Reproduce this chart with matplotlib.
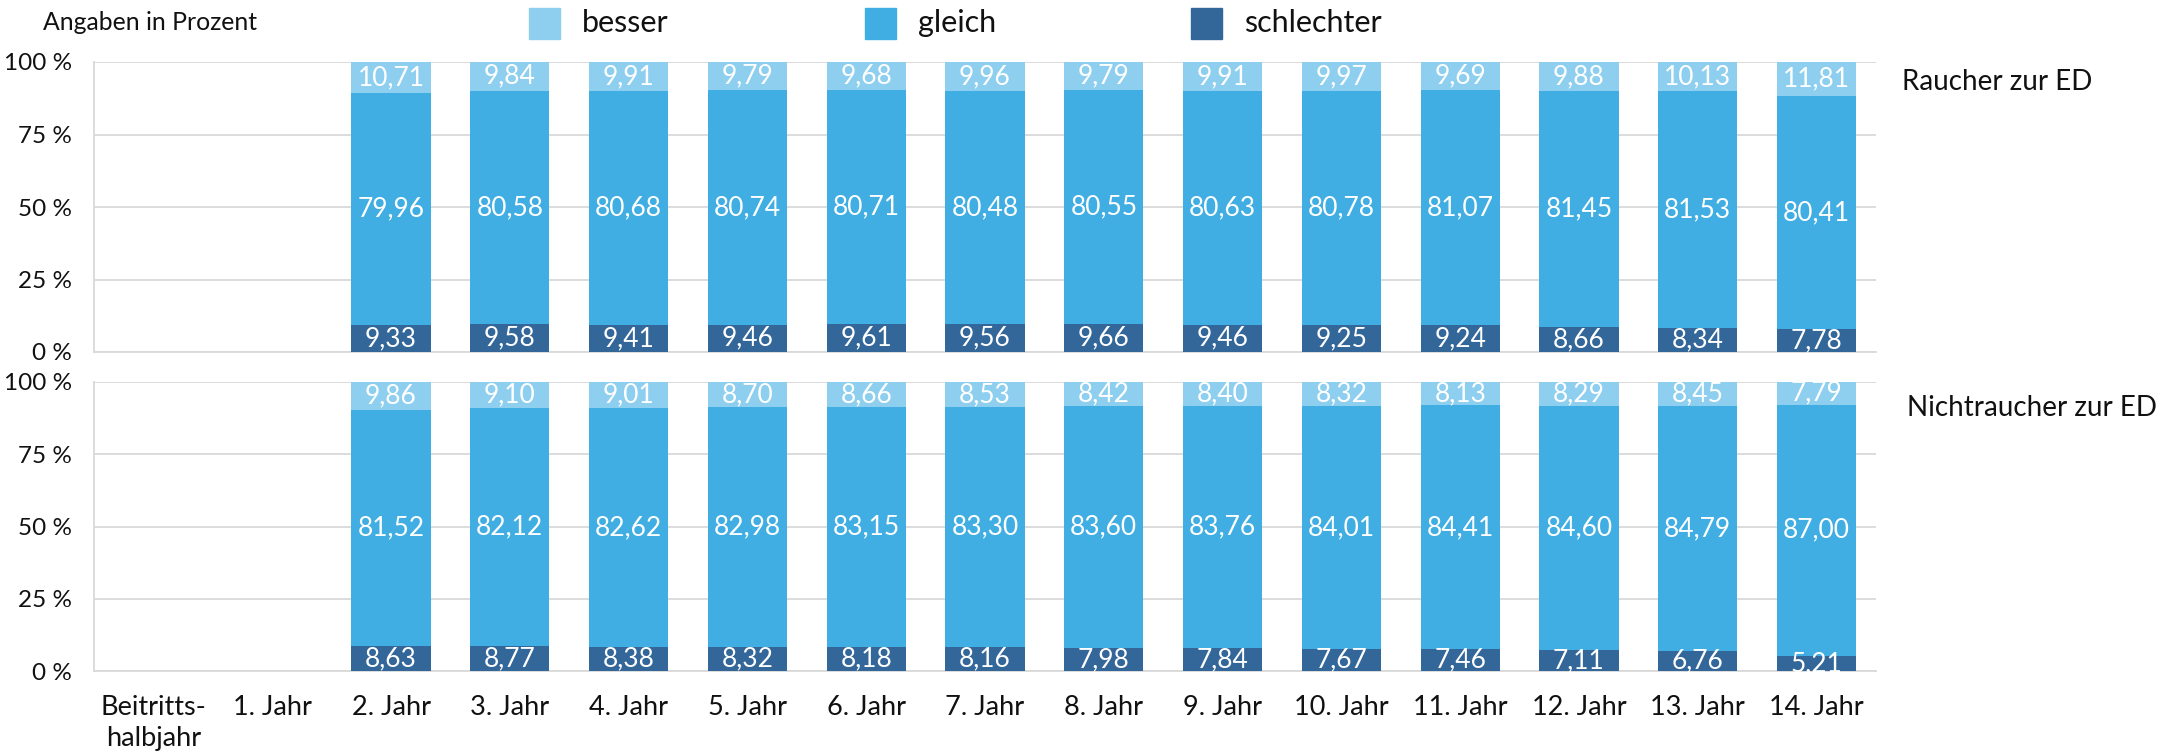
import matplotlib
matplotlib.use("Agg")
import matplotlib.pyplot as plt
import numpy as np
from matplotlib.patches import Rectangle

plt.rcParams['font.family'] = ['Lato', 'DejaVu Sans']

categories = ["Beitritts-\nhalbjahr", "1. Jahr", "2. Jahr", "3. Jahr", "4. Jahr", "5. Jahr",
              "6. Jahr", "7. Jahr", "8. Jahr", "9. Jahr", "10. Jahr", "11. Jahr",
              "12. Jahr", "13. Jahr", "14. Jahr"]

# Raucher zur ED (None = no data)
r_schlechter = [None, None, 9.33, 9.58, 9.41, 9.46, 9.61, 9.56, 9.66, 9.46, 9.25, 9.24, 8.66, 8.34, 7.78]
r_gleich     = [None, None, 79.96, 80.58, 80.68, 80.74, 80.71, 80.48, 80.55, 80.63, 80.78, 81.07, 81.45, 81.53, 80.41]
r_besser     = [None, None, 10.71, 9.84, 9.91, 9.79, 9.68, 9.96, 9.79, 9.91, 9.97, 9.69, 9.88, 10.13, 11.81]

# Nichtraucher zur ED
n_schlechter = [None, None, 8.63, 8.77, 8.38, 8.32, 8.18, 8.16, 7.98, 7.84, 7.67, 7.46, 7.11, 6.76, 5.21]
n_gleich     = [None, None, 81.52, 82.12, 82.62, 82.98, 83.15, 83.30, 83.60, 83.76, 84.01, 84.41, 84.60, 84.79, 87.00]
n_besser     = [None, None, 9.86, 9.10, 9.01, 8.70, 8.66, 8.53, 8.42, 8.40, 8.32, 8.13, 8.29, 8.45, 7.79]

series_names = ["besser", "gleich", "schlechter"]
yticks = [0, 25, 50, 75, 100]
ytick_labels = ["0 %", "25 %", "50 %", "75 %", "100 %"]
panel_titles = ["Raucher zur ED", "Nichtraucher zur ED"]

C_BESSER = "#8ECFF0"
C_GLEICH = "#41AEE3"
C_SCHLECHT = "#336699"
GRID = "#D9D9D9"

W, H = 2181, 752
fig = plt.figure(figsize=(W / 100, H / 100), dpi=100)

def fx(px):
    return px / W

def fy(py):
    return 1 - py / H

left, right = 94, 1876
ax1 = fig.add_axes([fx(left), fy(352), fx(right - left), fy(62) - fy(352)])
ax2 = fig.add_axes([fx(left), fy(671), fx(right - left), fy(382) - fy(671)])

def fmt(v):
    return f"{v:.2f}".replace(".", ",")

def draw(ax, s, g, b, show_x):
    x = np.arange(len(categories))
    idx = [i for i in range(len(categories)) if s[i] is not None]
    xs = x[idx]
    sv = np.array([s[i] for i in idx])
    gv = np.array([g[i] for i in idx])
    bv = np.array([b[i] for i in idx])
    width = 0.665
    ax.bar(xs, sv, width, color=C_SCHLECHT, zorder=3)
    ax.bar(xs, gv, width, bottom=sv, color=C_GLEICH, zorder=3)
    ax.bar(xs, bv, width, bottom=sv + gv, color=C_BESSER, zorder=3)
    for xi, a, m, c in zip(xs, sv, gv, bv):
        ax.text(xi, a / 2, fmt(a), ha="center", va="center", color="white", fontsize=19, zorder=4)
        ax.text(xi, a + m / 2, fmt(m), ha="center", va="center", color="white", fontsize=19, zorder=4)
        ax.text(xi, a + m + c / 2, fmt(c), ha="center", va="center", color="white", fontsize=19, zorder=4)
    ax.set_xlim(-0.5, len(categories) - 0.5)
    ax.set_ylim(0, 100)
    ax.set_yticks(yticks)
    ax.set_yticklabels(ytick_labels, fontsize=17.5)
    ax.yaxis.grid(True, color=GRID, linewidth=1.3, zorder=0)
    ax.set_axisbelow(True)
    for sp in ["top", "right"]:
        ax.spines[sp].set_visible(False)
    for sp in ["left", "bottom"]:
        ax.spines[sp].set_color(GRID)
        ax.spines[sp].set_linewidth(1.3)
    ax.tick_params(axis="y", length=0, pad=16, labelcolor="#111111")
    ax.set_xticks(x)
    if show_x:
        ax.set_xticklabels(categories, fontsize=19.5, linespacing=1.3, va="top")
        ax.tick_params(axis="x", length=0, pad=17, labelcolor="#111111")
    else:
        ax.set_xticklabels([])
        ax.tick_params(axis="x", length=0)

draw(ax1, r_schlechter, r_gleich, r_besser, False)
draw(ax2, n_schlechter, n_gleich, n_besser, True)

fig.text(fx(1902), fy(82), panel_titles[0], fontsize=20, va="center", ha="left", color="#111111")
fig.text(fx(1907), fy(408), panel_titles[1], fontsize=20, va="center", ha="left", color="#111111")
fig.text(fx(43), fy(23), "Angaben in Prozent", fontsize=17.8, va="center", ha="left", color="#111111")

# Legend
legend_x = [529, 865, 1191]
colors = [C_BESSER, C_GLEICH, C_SCHLECHT]
for lx, c, name in zip(legend_x, colors, series_names):
    fig.patches.append(Rectangle((fx(lx), fy(39)), fx(31), fy(8) - fy(39),
                                 transform=fig.transFigure, color=c))
    fig.text(fx(lx + 53), fy(23), name, fontsize=22, va="center", ha="left", color="#111111")

fig.savefig("out.png", dpi=100)
